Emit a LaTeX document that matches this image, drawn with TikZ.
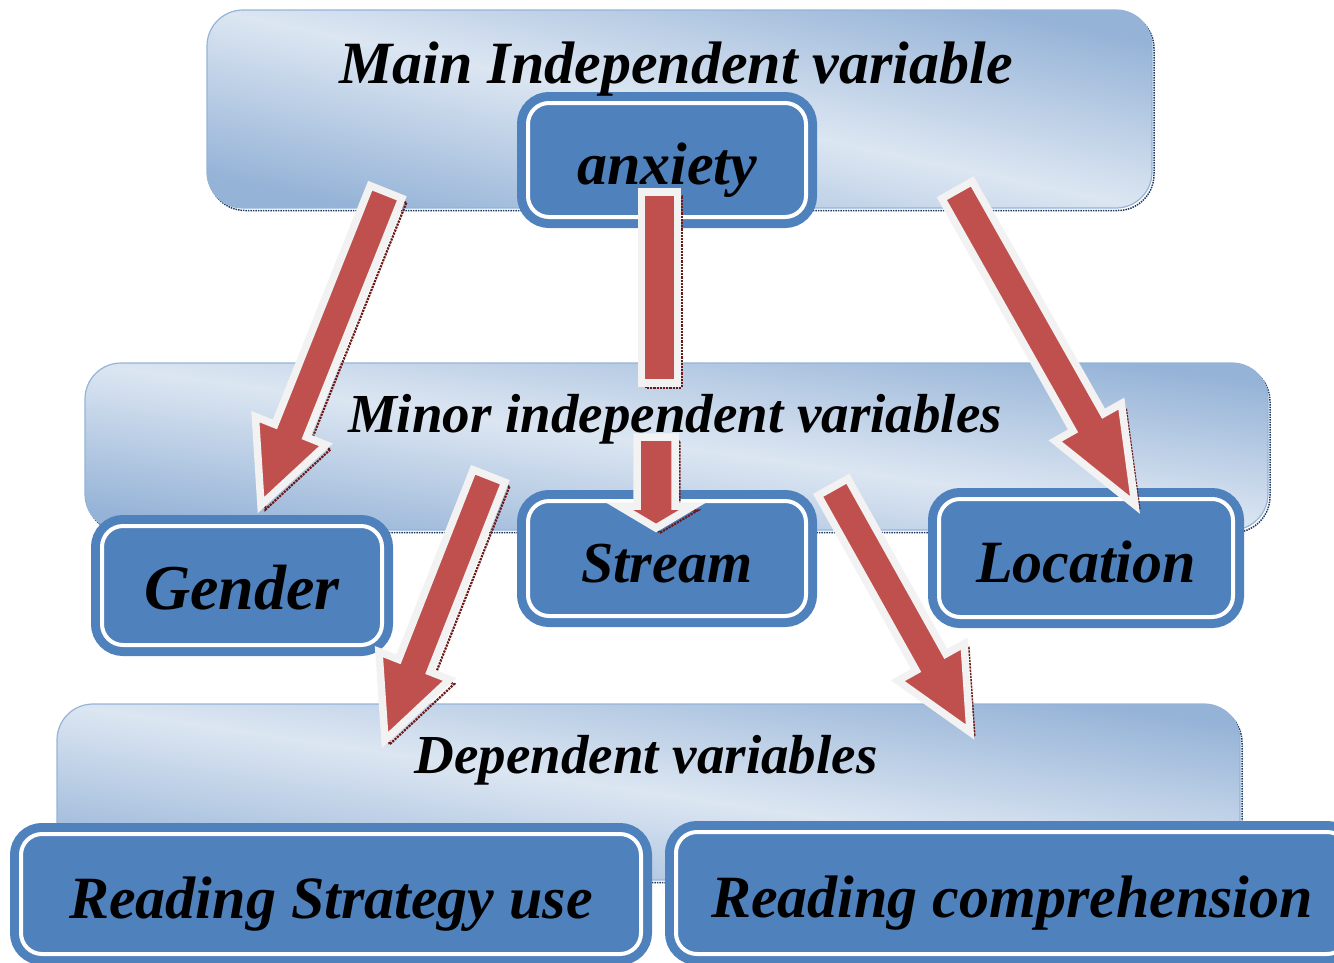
\documentclass[tikz,border=0pt]{standalone}
\usepackage{fontspec}
\setmainfont{Liberation Serif}
\usetikzlibrary{calc,shadows}

\definecolor{boxblue}{HTML}{4F81BD}
\definecolor{panellight}{HTML}{DCE6F2}
\definecolor{paneldark}{HTML}{95B3D7}
\definecolor{arrowred}{HTML}{C0504D}
\definecolor{arrowrim}{HTML}{F2F2F2}
\definecolor{shadered}{HTML}{6B1A1A}
\definecolor{shadenavy}{HTML}{1F3A60}

\newcommand{\varfont}[1]{\fontsize{#1pt}{#1pt}\selectfont\bfseries\itshape}

\tikzset{
  panel/.style={rectangle, rounded corners=36pt, draw=paneldark, line width=1.2pt,
    top color=paneldark, bottom color=paneldark, middle color=panellight,
    shading angle=-10, inner sep=0pt,
    drop shadow={shadow xshift=2pt, shadow yshift=-2.5pt, fill=none, draw=shadenavy,
      densely dotted, line width=1.5pt, opacity=1}},
  paneltitle/.style={anchor=base, inner sep=0pt},
  varbox/.style={rectangle, rounded corners=21pt, fill=boxblue, draw=boxblue,
    line width=9pt, double=white, double distance=4pt, inner sep=0pt,
    text height=48pt, text depth=0pt, font=\varfont{60}},
  arrowbody/.style={fill=arrowred, draw=arrowrim, line width=7.5pt, line join=miter,
    drop shadow={shadow xshift=4.5pt, shadow yshift=-4.5pt, fill=none, draw=shadered,
      densely dotted, line width=2.2pt, opacity=1}}
}

% tail, tip, shaft half width, head half width, head length
\newcommand{\redarrow}[5]{%
  \coordinate (#2-base) at ($(#2)!#5!(#1)$);
  \draw[arrowbody] ($(#1)!#3!90:(#2)$) -- ($(#2-base)!#3!90:(#2)$)
    -- ($(#2-base)!#4!90:(#2)$) -- (#2) -- ($(#2-base)!#4!-90:(#2)$)
    -- ($(#2-base)!#3!-90:(#2)$) -- ($(#1)!#3!-90:(#2)$) -- cycle;
}

\begin{document}
\begin{tikzpicture}[x=1pt,y=-1pt]
\useasboundingbox (0,0) rectangle (1334,962);

% panels
\node[panel, minimum width=945pt, minimum height=198pt, shading angle=-12] (mainpanel) at (679.5,109) {};
\node[panel, minimum width=1183pt, minimum height=167pt, shading angle=-8] (minorpanel) at (676.5,446.5) {};
\node[panel, minimum width=1183pt, minimum height=176pt, shading angle=-8.5] (deppanel) at (648.5,792) {};

% variable boxes
\node[varbox, minimum width=278pt, minimum height=114pt] (anxiety) at (667,160) {anxiety};
\node[varbox, minimum width=280pt, minimum height=119pt, font=\varfont{64}] (gender) at (242,585.5) {Gender};
\node[varbox, minimum width=278pt, minimum height=115pt, font=\varfont{58}] (stream) at (667,558.5) {Stream};
\node[varbox, minimum width=294pt, minimum height=118pt] (location) at (1086,558) {Location};
\node[varbox, minimum width=620pt, minimum height=120pt] (strategy) at (331,894) {Reading Strategy use};
\node[varbox, minimum width=672pt, minimum height=122pt] (comprehension) at (1012,893) {Reading comprehension};

% panel titles
\node[paneltitle, font=\varfont{60}] (maintitle) at (676,83) {Main Independent variable};
\node[paneltitle, font=\varfont{55}] (minortitle) at (675,432) {Minor independent variables};
\node[paneltitle, font=\varfont{55}] (deptitle) at (646,773) {Dependent variables};

% arrows
\coordinate (gtail) at (386,192);
\coordinate (gtip) at (261,505);
\coordinate (stail) at (659.5,192);
\coordinate (scut) at (659.5,383);
\coordinate (sresume) at (656,437);
\coordinate (stip) at (656,528);
\coordinate (ltail) at (957,190);
\coordinate (ltip) at (1135,505);
\coordinate (rtail) at (489,476);
\coordinate (rtip) at (385,740);
\coordinate (ctail) at (833,487);
\coordinate (ctip) at (970,732);

\redarrow{gtail}{gtip}{17pt}{38pt}{80pt}
\draw[arrowbody] ($(stail)+(-18,0)$) rectangle ($(scut)+(18,0)$);
\redarrow{sresume}{stip}{19pt}{37pt}{22pt}
\redarrow{ltail}{ltip}{17.5pt}{38pt}{95pt}
\redarrow{rtail}{rtip}{17pt}{38pt}{80pt}
\redarrow{ctail}{ctip}{17pt}{38pt}{80pt}

\end{tikzpicture}
\end{document}
